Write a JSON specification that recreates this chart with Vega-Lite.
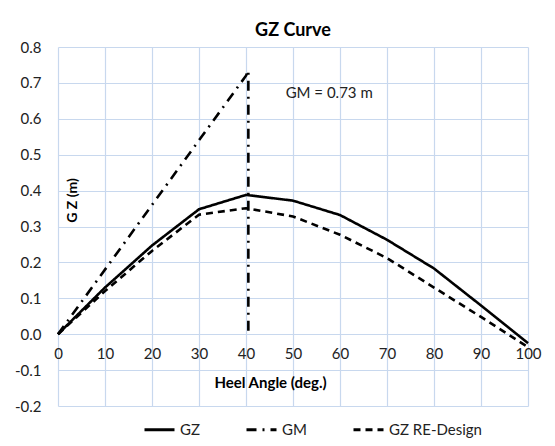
{
  "$schema": "https://vega.github.io/schema/vega-lite/v6.json",
  "autosize": "none",
  "width": 470,
  "height": 359,
  "padding": {"left": 58, "top": 47, "right": 27, "bottom": 40},
  "background": "white",
  "title": {
    "text": "GZ Curve",
    "fontSize": 18,
    "fontWeight": "bold",
    "font": "Lato",
    "color": "#000000",
    "offset": 0
  },
  "config": {
    "font": "Lato",
    "view": {"stroke": null},
    "axis": {
      "gridColor": "#C8D8EE",
      "gridWidth": 1.2,
      "domain": false,
      "ticks": false,
      "labelOverlap": false,
      "labelFlush": false,
      "labelFont": "Lato",
      "labelFontSize": 15,
      "labelColor": "#222222",
      "titleFont": "Lato",
      "titleFontWeight": "bold",
      "titleColor": "#000000"
    }
  },
  "encoding": {
    "x": {
      "field": "heel",
      "type": "quantitative",
      "scale": {"domain": [0, 100], "nice": false},
      "axis": {
        "values": [0, 10, 20, 30, 40, 50, 60, 70, 80, 90, 100],
        "offset": -72,
        "labelPadding": 12,
        "title": "Heel Angle (deg.)",
        "titleFontSize": 15,
        "titleX": 212,
        "titleY": 53,
        "titleBaseline": "alphabetic"
      }
    },
    "y": {
      "field": "gz",
      "type": "quantitative",
      "scale": {"domain": [-0.2, 0.8], "nice": false, "zero": false},
      "axis": {
        "values": [-0.2, -0.1, 0, 0.1, 0.2, 0.3, 0.4, 0.5, 0.6, 0.7, 0.8],
        "tickCount": 11,
        "labelExpr": "replace(format(datum.value, '.1f'), '\u2212', '-')",
        "labelPadding": 17,
        "title": "G Z (m)",
        "titleFontSize": 14,
        "titleAngle": -90,
        "titleX": 18,
        "titleY": 153,
        "titleAlign": "center",
        "titleBaseline": "alphabetic"
      }
    }
  },
  "layer": [
    {
      "data": {
        "values": [
          {"series": "GZ", "i": 0, "heel": 0, "gz": 0},
          {"series": "GZ", "i": 1, "heel": 10, "gz": 0.13},
          {"series": "GZ", "i": 2, "heel": 20, "gz": 0.247},
          {"series": "GZ", "i": 3, "heel": 30, "gz": 0.348},
          {"series": "GZ", "i": 4, "heel": 40, "gz": 0.388},
          {"series": "GZ", "i": 5, "heel": 50, "gz": 0.372},
          {"series": "GZ", "i": 6, "heel": 60, "gz": 0.332},
          {"series": "GZ", "i": 7, "heel": 70, "gz": 0.263},
          {"series": "GZ", "i": 8, "heel": 80, "gz": 0.183},
          {"series": "GZ", "i": 9, "heel": 90, "gz": 0.08},
          {"series": "GZ", "i": 10, "heel": 100, "gz": -0.025},
          {"series": "GM", "i": 0, "heel": 0, "gz": 0},
          {"series": "GM", "i": 1, "heel": 40, "gz": 0.72},
          {"series": "GM", "i": 2, "heel": 40.5, "gz": 0.735},
          {"series": "GM", "i": 3, "heel": 40.5, "gz": 0},
          {"series": "GZ RE-Design", "i": 0, "heel": 0, "gz": 0},
          {"series": "GZ RE-Design", "i": 1, "heel": 10, "gz": 0.12},
          {"series": "GZ RE-Design", "i": 2, "heel": 20, "gz": 0.232},
          {"series": "GZ RE-Design", "i": 3, "heel": 30, "gz": 0.333},
          {"series": "GZ RE-Design", "i": 4, "heel": 40, "gz": 0.351},
          {"series": "GZ RE-Design", "i": 5, "heel": 50, "gz": 0.328},
          {"series": "GZ RE-Design", "i": 6, "heel": 60, "gz": 0.277},
          {"series": "GZ RE-Design", "i": 7, "heel": 70, "gz": 0.212},
          {"series": "GZ RE-Design", "i": 8, "heel": 80, "gz": 0.13},
          {"series": "GZ RE-Design", "i": 9, "heel": 90, "gz": 0.048},
          {"series": "GZ RE-Design", "i": 10, "heel": 100, "gz": -0.036}
        ]
      },
      "mark": {"type": "line", "color": "#000000", "strokeWidth": 2.6},
      "encoding": {
        "order": {"field": "i"},
        "strokeDash": {
          "field": "series",
          "type": "nominal",
          "scale": {
            "domain": ["GZ", "GM", "GZ RE-Design"],
            "range": [[1, 0], [10, 6, 2, 6], [7, 5]]
          },
          "legend": {
            "title": null,
            "orient": "none",
            "direction": "horizontal",
            "legendX": 85,
            "legendY": 366,
            "symbolType": "stroke",
            "symbolSize": 900,
            "symbolStrokeWidth": 3,
            "symbolStrokeColor": "#000000",
            "labelFontSize": 15,
            "labelColor": "#222222",
            "labelOffset": 4,
            "columnPadding": 40
          }
        }
      }
    },
    {
      "data": {"values": [{"heel": 57.7, "gz": 0.672, "label": "GM = 0.73 m"}]},
      "mark": {"type": "text", "fontSize": 15, "color": "#222222", "align": "center", "baseline": "middle"},
      "encoding": {
        "text": {"field": "label"}
      }
    }
  ]
}
